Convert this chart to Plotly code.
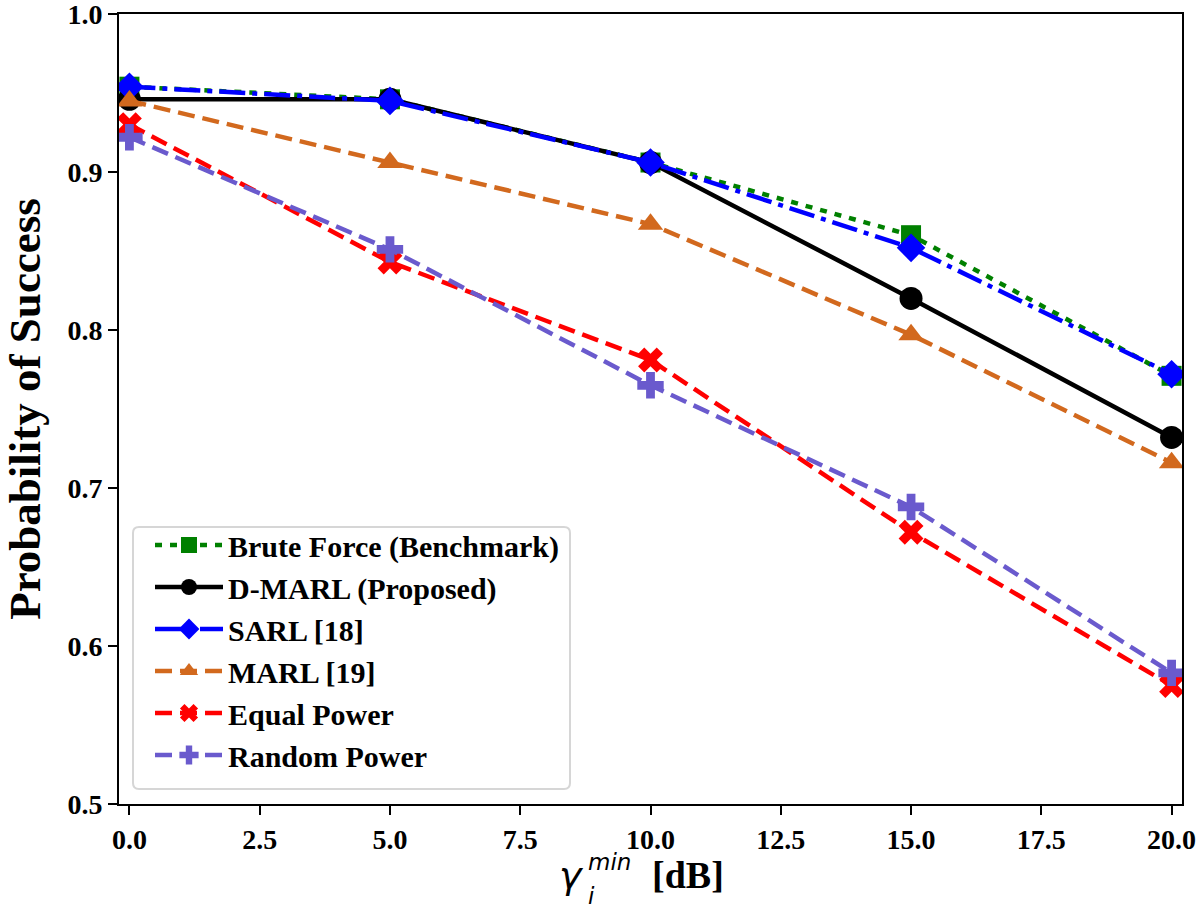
import plotly.graph_objects as go

# ---- data ----
gamma_db = [0, 5, 10, 15, 20]
brute_force = [0.954, 0.946, 0.906, 0.860, 0.771]
d_marl = [0.946, 0.946, 0.906, 0.820, 0.732]
sarl = [0.954, 0.945, 0.906, 0.852, 0.772]
marl = [0.945, 0.906, 0.867, 0.797, 0.716]
equal_power = [0.930, 0.843, 0.781, 0.672, 0.575]
random_power = [0.922, 0.851, 0.765, 0.688, 0.583]
x_ticks = [0, 2.5, 5, 7.5, 10, 12.5, 15, 17.5, 20]
y_ticks = [0.5, 0.6, 0.7, 0.8, 0.9, 1.0]

W, H = 1204, 917
L, R, T, B = 119, 22, 14, 113
PW, PH = W - L - R, H - T - B

SERIF = "Liberation Serif"
LW = 4.5

series = [
    ("Brute Force (Benchmark)", brute_force, "#008000", "7px,8px", "square", 20),
    ("D-MARL (Proposed)", d_marl, "#000000", "solid", "circle", 23),
    ("SARL [18]", sarl, "#0000ff", "26px,7px,5px,7px", "diamond", 22),
    ("MARL [19]", marl, "#d2691e", "17px,8px", "triangle-up", 22),
    ("Equal Power", equal_power, "#ff0000", "17px,8px", "x", 22),
    ("Random Power", random_power, "#6a5acd", "17px,8px", "cross", 22),
]

fig = go.Figure()
for name, vals, color, dash, sym, size in series:
    fig.add_trace(go.Scatter(
        x=gamma_db, y=vals, name=name, mode="lines+markers",
        line=dict(color=color, width=LW, dash=dash),
        marker=dict(symbol=sym, size=size, color=color, line=dict(width=0)),
        cliponaxis=True,
    ))

def px_x(px):
    return (px - L) / PW

def px_y(py):
    return (H - B - py) / PH

# rounded legend frame
x0, x1 = px_x(133), px_x(570)
y0, y1 = px_y(789), px_y(527)
rx, ry = 6 / PW, 6 / PH
path = (f"M{x0+rx},{y0} L{x1-rx},{y0} Q{x1},{y0} {x1},{y0+ry} "
        f"L{x1},{y1-ry} Q{x1},{y1} {x1-rx},{y1} L{x0+rx},{y1} "
        f"Q{x0},{y1} {x0},{y1-ry} L{x0},{y0+ry} Q{x0},{y0} {x0+rx},{y0} Z")
fig.add_shape(type="path", path=path, xref="paper", yref="paper",
              line=dict(color="#d6d6d6", width=2), fillcolor="rgba(255,255,255,0.8)",
              layer="below")

# x-axis title built from pieces (gamma with stacked sub/superscript)
ann = [
    dict(text="γ", x=px_x(557), y=px_y(875), xanchor="left", yanchor="middle",
         font=dict(family="DejaVu Sans", size=38, color="black", style="italic")),
    dict(text="min", x=px_x(586), y=px_y(862), xanchor="left", yanchor="middle",
         font=dict(family="DejaVu Sans", size=23, color="black", style="italic")),
    dict(text="i", x=px_x(586), y=px_y(896), xanchor="left", yanchor="middle",
         font=dict(family="DejaVu Sans", size=23, color="black", style="italic")),
    dict(text="[dB]", x=px_x(650), y=px_y(875), xanchor="left", yanchor="middle",
         font=dict(family=SERIF, size=38, color="black", weight="bold")),
]
for a in ann:
    a.update(xref="paper", yref="paper", showarrow=False)
fig.update_layout(annotations=ann)

fig.update_layout(
    width=W, height=H,
    margin=dict(l=L, r=R, t=T, b=B, pad=0, autoexpand=False),
    paper_bgcolor="white", plot_bgcolor="white",
    font=dict(family=SERIF, color="black"),
    showlegend=True,
    legend=dict(
        x=px_x(150), y=px_y(519), xanchor="left", yanchor="top",
        bgcolor="rgba(0,0,0,0)", borderwidth=0,
        font=dict(family=SERIF, size=30, color="black", weight="bold"),
        itemwidth=68,
    ),
    xaxis=dict(
        range=[-0.2, 20.2], tickvals=x_ticks,
        ticktext=[f"{v:.1f}" for v in x_ticks],
        showgrid=False, zeroline=False, automargin=False,
        showline=True, linecolor="black", linewidth=2, mirror=True,
        ticks="outside", ticklen=9, tickwidth=2, tickcolor="black",
        ticklabeloverflow="allow",
        tickfont=dict(family=SERIF, size=28, color="black", weight="bold"),
    ),
    yaxis=dict(
        range=[0.5, 1.0], tickvals=y_ticks,
        ticktext=[f"{v:.1f}" for v in y_ticks],
        showgrid=False, zeroline=False, automargin=False,
        showline=True, linecolor="black", linewidth=2, mirror=True,
        ticks="outside", ticklen=9, tickwidth=2, tickcolor="black",
        ticklabeloverflow="allow",
        tickfont=dict(family=SERIF, size=28, color="black", weight="bold"),
        title=dict(text="Probability of Success", standoff=14,
                   font=dict(family=SERIF, size=45, color="black", weight="bold")),
    ),
)

fig.write_html("out.html", config={"displayModeBar": False},
               post_script="document.body.style.margin='0px';")
